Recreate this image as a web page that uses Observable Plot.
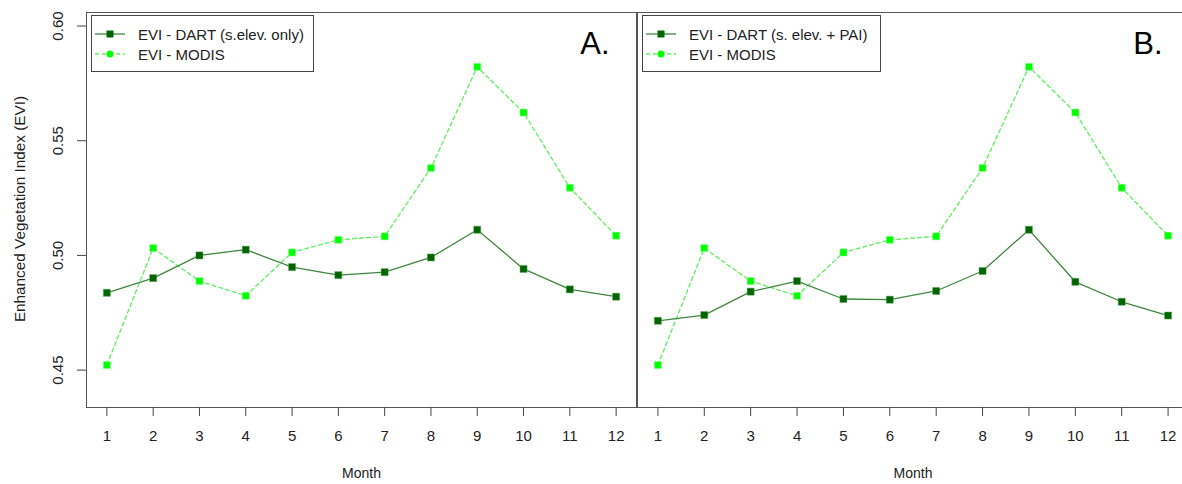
<!DOCTYPE html>
<html>
<head>
<meta charset="utf-8">
<script src="https://cdn.jsdelivr.net/npm/d3@7"></script>
<script src="https://cdn.jsdelivr.net/npm/@observablehq/plot@0.6"></script>
<style>
  html, body { margin: 0; padding: 0; background: #fff; }
  #wrap { position: relative; width: 1182px; height: 484px; overflow: hidden; font-family: "Liberation Sans", Arial, sans-serif; }
  .panel { position: absolute; top: 0; }
  .legend { position: absolute; border: 1.5px solid #444; background: #fff; box-sizing: border-box; font-size: 15px; color: #222; }
  .legend .row { position: absolute; left: 0; height: 20px; display: flex; align-items: center; white-space: nowrap; }
  .legend svg { display: block; }
  .ylab { position: absolute; left: 20px; top: 209px; transform: translate(-50%, -50%) rotate(-90deg); font-size: 15.3px; color: #222; white-space: nowrap; }
</style>
</head>
<body>
<div id="wrap"></div>
<script>
// ---- data ----
const months = [1, 2, 3, 4, 5, 6, 7, 8, 9, 10, 11, 12];
const dartElevOnly = [0.4837, 0.4901, 0.5000, 0.5025, 0.4949, 0.4914, 0.4927, 0.4991, 0.5112, 0.4941, 0.4852, 0.4820];
const dartElevPAI  = [0.4715, 0.4740, 0.4842, 0.4888, 0.4810, 0.4807, 0.4845, 0.4932, 0.5112, 0.4885, 0.4798, 0.4738];
const modis        = [0.4522, 0.5032, 0.4888, 0.4824, 0.5013, 0.5068, 0.5083, 0.5381, 0.5822, 0.5623, 0.5295, 0.5086];
const yTicks = [0.45, 0.50, 0.55, 0.60];
const yTickLabels = ["0.45", "0.50", "0.55", "0.60"];
const panelLetters = ["A.", "B."];
const dartNames = ["EVI - DART (s.elev. only)", "EVI - DART (s. elev. + PAI)"];
const modisName = "EVI - MODIS";
const yTitle = "Enhanced Vegetation Index (EVI)";
const xTitle = "Month";

const DART_LINE = "#3f873f", DART_PT = "#006400";
const MODIS_LINE = "#5cf05c", MODIS_PT = "#00ff00";
const FONT = "Liberation Sans, Arial, sans-serif";

const wrap = document.getElementById("wrap");

function panel(dart, letter, opts) {
  const dartRows = months.map((m, i) => ({month: m, evi: dart[i]}));
  const modisRows = months.map((m, i) => ({month: m, evi: modis[i]}));
  const marks = [
    Plot.frame({stroke: "#555", strokeWidth: 1}),
    Plot.line(modisRows, {x: "month", y: "evi", stroke: MODIS_LINE, strokeWidth: 1.3, strokeDasharray: "4,3"}),
    Plot.line(dartRows, {x: "month", y: "evi", stroke: DART_LINE, strokeWidth: 1.3}),
    Plot.dot(modisRows, {x: "month", y: "evi", symbol: "square", r: 4, fill: MODIS_PT, stroke: "#9f9", strokeWidth: 0.5}),
    Plot.dot(dartRows, {x: "month", y: "evi", symbol: "square", r: 4, fill: DART_PT, stroke: "#6a6", strokeWidth: 0.5}),
    Plot.axisX({ticks: months, tickSize: 9, tickPadding: 14, fontSize: 15, tickFormat: d => String(d), label: null, stroke: "#444"}),
    Plot.text([xTitle], {frameAnchor: "bottom", dy: 70, fontSize: 14, fill: "#222"}),
    Plot.text([letter], {frameAnchor: "top-right", textAnchor: "end", lineAnchor: "top", dx: opts.letterDx, dy: 19, fontSize: 31, fill: "#000"})
  ];
  if (opts.showY) {
    marks.push(Plot.axisY({ticks: yTicks, tickSize: 9, tickFormat: () => "", label: null, stroke: "#444"}));
    marks.push(Plot.text(yTicks, {y: d => d, text: (d, i) => yTickLabels[i], frameAnchor: "left", dx: -24, rotate: -90, textAnchor: "middle", lineAnchor: "bottom", fontSize: 15, fill: "#222"}));
  }
  return Plot.plot({
    width: opts.width,
    height: 484,
    marginTop: 12,
    marginBottom: 77,
    marginLeft: opts.marginLeft,
    marginRight: opts.marginRight,
    style: {fontFamily: FONT, color: "#222", background: "transparent"},
    x: {domain: [0.56, 12.44], axis: null},
    y: {domain: [0.4337, 0.6059], axis: null},
    marks
  });
}

const pA = panel(dartElevOnly, panelLetters[0], {width: 637, marginLeft: 86, marginRight: 1, showY: true, letterDx: -27});
pA.classList.add("panel"); pA.style.left = "0px";
const pB = panel(dartElevPAI, panelLetters[1], {width: 552, marginLeft: 1, marginRight: 0, showY: false, letterDx: -26});
pB.classList.add("panel"); pB.style.left = "636px";
wrap.appendChild(pA);
wrap.appendChild(pB);

const yl = document.createElement("div");
yl.className = "ylab"; yl.textContent = yTitle;
wrap.appendChild(yl);

function legend(left, top, width, dartName) {
  const box = document.createElement("div");
  box.className = "legend";
  Object.assign(box.style, {left: left + "px", top: top + "px", width: width + "px", height: "57px"});
  const rows = [
    {name: dartName, color: DART_LINE, pt: DART_PT, dash: null, shape: "square"},
    {name: modisName, color: MODIS_LINE, pt: MODIS_PT, dash: "4,3", shape: "circle"}
  ];
  rows.forEach((r, i) => {
    const row = document.createElement("div");
    row.className = "row";
    row.style.top = (8 + i * 20) + "px";
    const svg = d3.create("svg").attr("width", 46).attr("height", 20);
    svg.append("line").attr("x1", 3).attr("x2", 33).attr("y1", 10).attr("y2", 10)
      .attr("stroke", r.color).attr("stroke-width", 1.3).attr("stroke-dasharray", r.dash);
    if (r.shape === "square") svg.append("rect").attr("x", 14.5).attr("y", 6.5).attr("width", 7).attr("height", 7).attr("fill", r.pt);
    else svg.append("circle").attr("cx", 18).attr("cy", 10).attr("r", 3.5).attr("fill", r.pt);
    row.appendChild(svg.node());
    const t = document.createElement("span");
    t.textContent = r.name;
    row.appendChild(t);
    box.appendChild(row);
  });
  wrap.appendChild(box);
}
legend(91, 15, 223, dartNames[0]);
legend(642, 15, 239, dartNames[1]);
</script>
</body>
</html>
